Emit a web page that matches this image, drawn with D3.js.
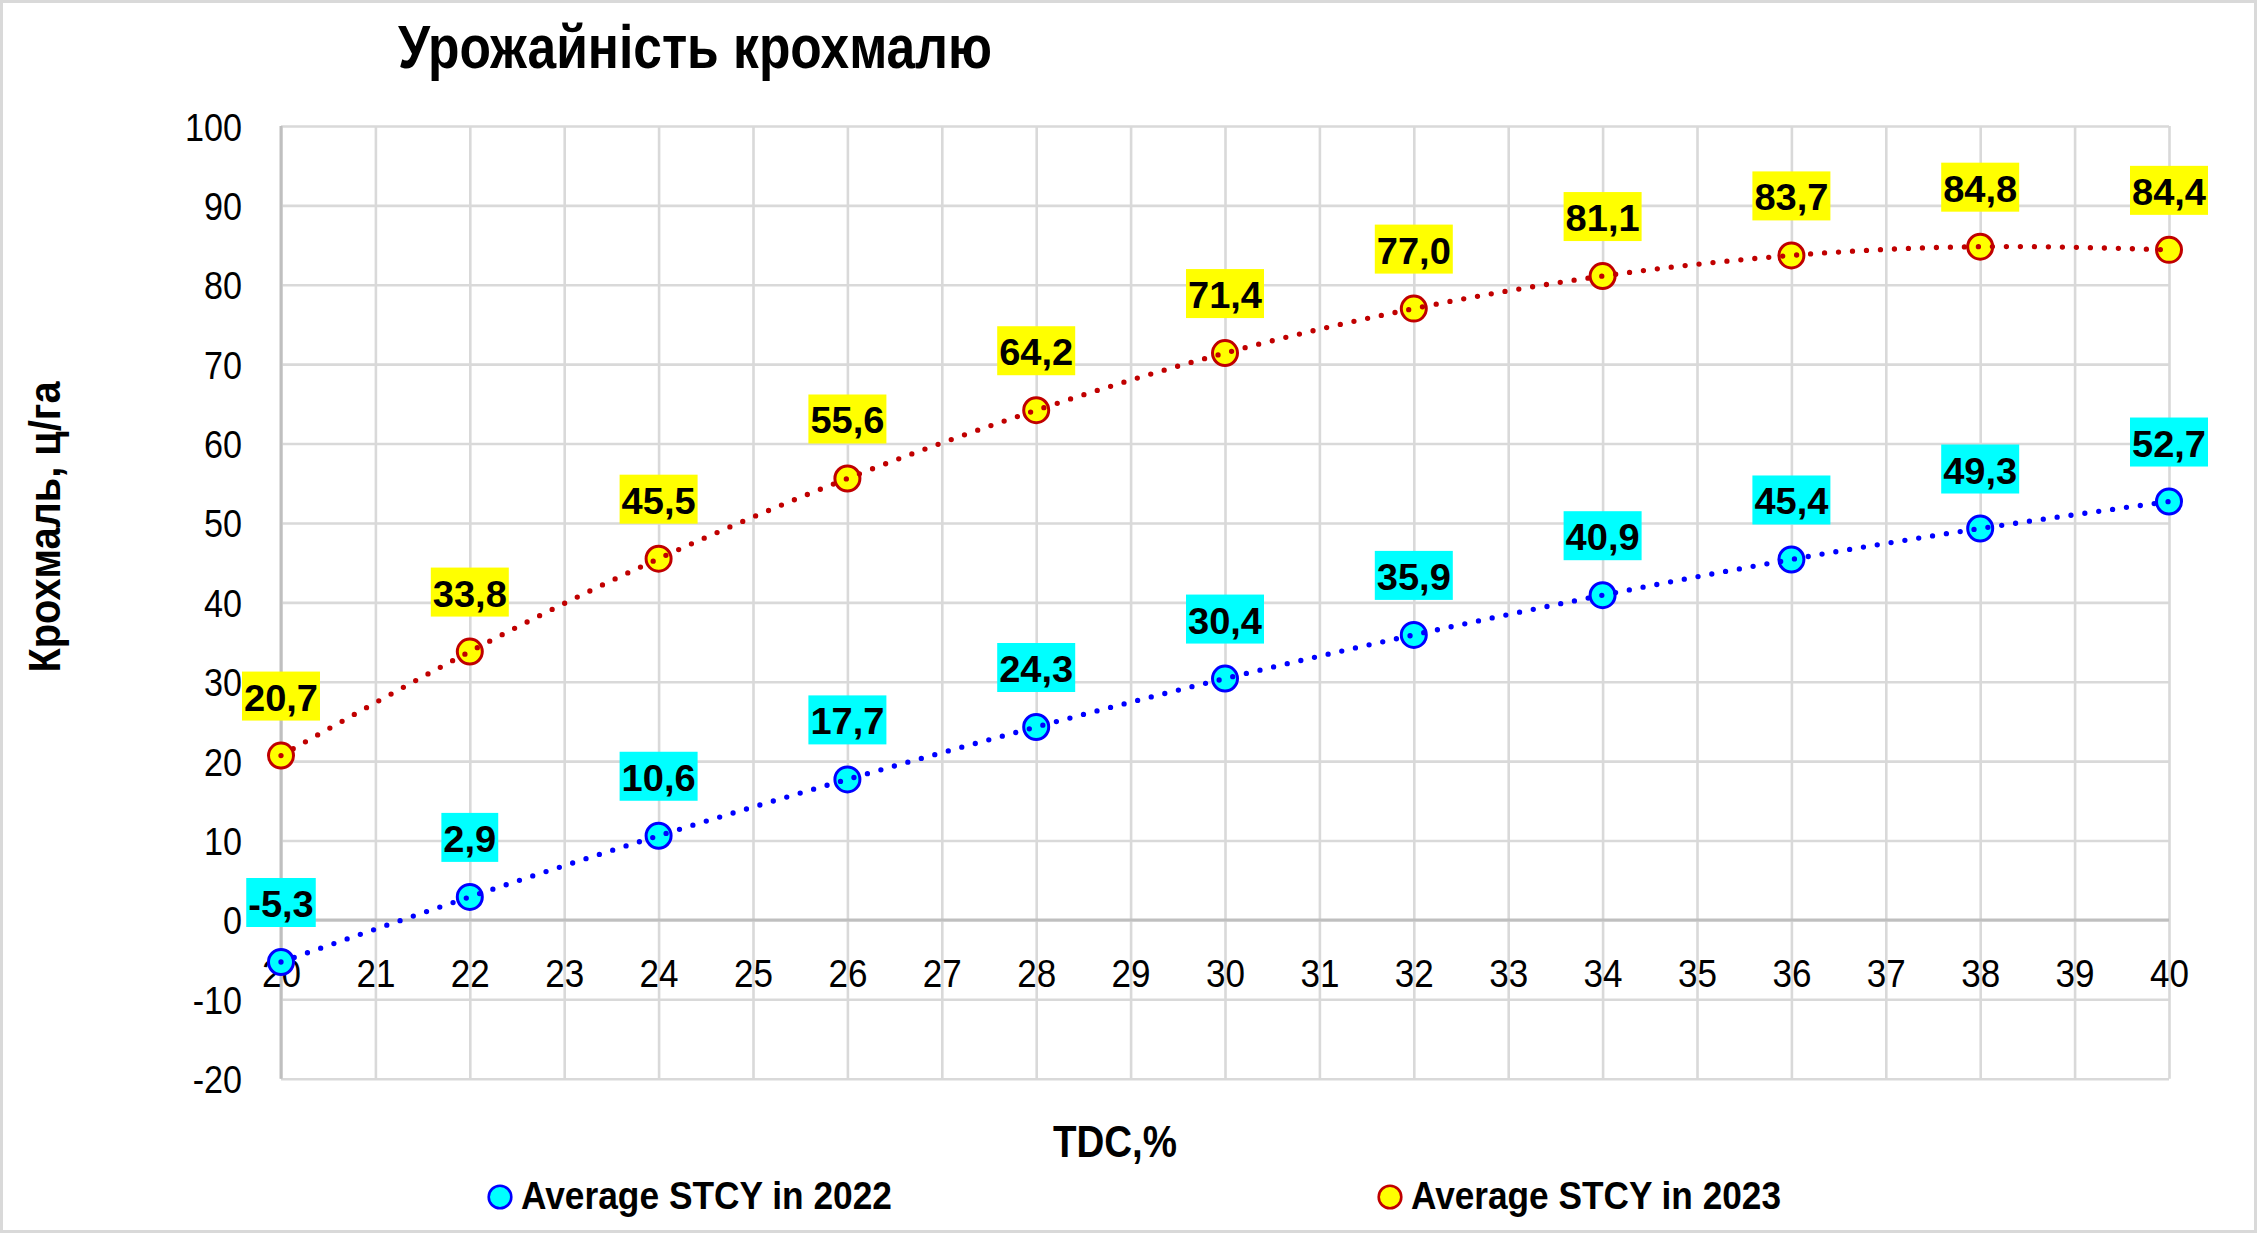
<!DOCTYPE html>
<html>
<head>
<meta charset="utf-8">
<script src="https://cdn.jsdelivr.net/npm/d3@7"></script>
<style>
  html, body { margin: 0; padding: 0; background: #fff; }
  svg { display: block; }
</style>
</head>
<body>
<div id="chart"></div>
<script>
// ---------------- data ----------------
const tdc = [20, 22, 24, 26, 28, 30, 32, 34, 36, 38, 40];
const stcy2022 = [-5.3, 2.9, 10.6, 17.7, 24.3, 30.4, 35.9, 40.9, 45.4, 49.3, 52.7];
const stcy2023 = [20.7, 33.8, 45.5, 55.6, 64.2, 71.4, 77.0, 81.1, 83.7, 84.8, 84.4];
const xTicks = d3.range(20, 41, 1);
const yTicks = [-20, -10, 0, 10, 20, 30, 40, 50, 60, 70, 80, 90, 100];
const seriesNames = ["Average STCY in 2022", "Average STCY in 2023"];
const titleText = "Урожайність крохмалю";
const yTitleText = "Крохмаль, ц/га";
const xTitleText = "TDC,%";

// ---------------- setup ----------------
const W = 2257, H = 1233;
const svg = d3.select("#chart").append("svg").attr("width", W).attr("height", H);

function hasFont(name) {
  const c = document.createElement("canvas").getContext("2d");
  const s = "Average STCY 0123456789 Крохмаль";
  c.font = "40px monospace"; const a = c.measureText(s).width;
  c.font = `40px "${name}", monospace`; const b = c.measureText(s).width;
  c.font = "40px serif"; const a2 = c.measureText(s).width;
  c.font = `40px "${name}", serif`; const b2 = c.measureText(s).width;
  return a !== b && a2 !== b2;
}
const narrowFam = hasFont("Liberation Sans Narrow") ? '"Liberation Sans Narrow", "Liberation Sans", Arial, sans-serif'
                : (hasFont("Arial Narrow") ? '"Arial Narrow", "Liberation Sans", Arial, sans-serif'
                : '"Liberation Sans", Arial, sans-serif');
const regFam = '"Liberation Sans", Arial, sans-serif';

const ctx = document.createElement("canvas").getContext("2d");
function measure(str, weight, size, fam) {
  ctx.font = `${weight} ${size}px ${fam}`;
  return ctx.measureText(str).width;
}

const x = d3.scaleLinear().domain([20, 40]).range([281, 2169]);
const y = d3.scaleLinear().domain([-20, 100]).range([1078.7, 126]);

// background + outer border
svg.append("rect").attr("x", 0).attr("y", 0).attr("width", W).attr("height", H).attr("fill", "#fff");
svg.append("rect").attr("x", 1.5).attr("y", 1.5).attr("width", W - 3).attr("height", H - 3)
  .attr("fill", "none").attr("stroke", "#d9d9d9").attr("stroke-width", 3);

// ---------------- gridlines via axes ----------------
const gridX = svg.append("g").attr("transform", `translate(0,${y(-20)})`)
  .call(d3.axisBottom(x).tickValues(xTicks).tickSize(-(y(-20) - y(100))).tickFormat(""));
gridX.select(".domain").remove();
gridX.selectAll("line").attr("stroke", "#d9d9d9").attr("stroke-width", 2.6);

const gridY = svg.append("g").attr("transform", `translate(${x(20)},0)`)
  .call(d3.axisLeft(y).tickValues(yTicks).tickSize(-(x(40) - x(20))).tickFormat(""));
gridY.select(".domain").remove();
gridY.selectAll("line").attr("stroke", "#d9d9d9").attr("stroke-width", 2.6);

// axis lines (value axis at left, category axis at y = 0)
svg.append("line").attr("x1", x(20)).attr("x2", x(20)).attr("y1", y(100)).attr("y2", y(-20))
  .attr("stroke", "#bfbfbf").attr("stroke-width", 3);
svg.append("line").attr("x1", x(20)).attr("x2", x(40)).attr("y1", y(0)).attr("y2", y(0))
  .attr("stroke", "#bfbfbf").attr("stroke-width", 3);

// ---------------- tick labels ----------------
const tickSize = 39;
const yTickScale = 57 / measure("100", "normal", tickSize, narrowFam);
const xTickScale = 39 / measure("27", "normal", tickSize, narrowFam);

const yAxisG = svg.append("g").attr("transform", `translate(${x(20)},0)`)
  .call(d3.axisLeft(y).tickValues(yTicks).tickSize(0).tickFormat(d => String(d)));
yAxisG.select(".domain").remove();
yAxisG.selectAll("text")
  .attr("x", null).attr("dy", null)
  .attr("transform", `translate(${242 - x(20)},14) scale(${yTickScale},1)`)
  .attr("text-anchor", "end")
  .style("font-family", narrowFam).style("font-size", tickSize + "px").attr("fill", "#000");

const xAxisG = svg.append("g").attr("transform", `translate(0,${y(0)})`)
  .call(d3.axisBottom(x).tickValues(xTicks).tickSize(0).tickFormat(d => String(d)));
xAxisG.select(".domain").remove();
xAxisG.selectAll("text")
  .attr("y", null).attr("dy", null)
  .attr("transform", `translate(0,67) scale(${xTickScale},1)`)
  .attr("text-anchor", "middle")
  .style("font-family", narrowFam).style("font-size", tickSize + "px").attr("fill", "#000");

// ---------------- series ----------------
const series = [
  { name: seriesNames[0], values: stcy2022, stroke: "#0000ff", fill: "#00ffff", line: "#0000ff", labelBg: "#00ffff" },
  { name: seriesNames[1], values: stcy2023, stroke: "#c00000", fill: "#ffff00", line: "#c00000", labelBg: "#ffff00" }
];

const lineGen = d3.line().x(d => x(d[0])).y(d => y(d[1])).curve(d3.curveNatural);

series.forEach(s => {
  const pts = tdc.map((t, i) => [t, s.values[i]]);
  svg.append("g").selectAll("circle").data(pts).join("circle")
    .attr("cx", d => x(d[0])).attr("cy", d => y(d[1])).attr("r", 12.5)
    .attr("fill", s.fill).attr("stroke", s.stroke).attr("stroke-width", 3);
  svg.append("path").datum(pts).attr("d", lineGen)
    .attr("fill", "none").attr("stroke", s.line).attr("stroke-width", 5.3)
    .attr("stroke-linecap", "round").attr("stroke-dasharray", "0 14");
});

// ---------------- data labels ----------------
const lblSize = 36;
const lblScale = 74 / measure("84,8", "bold", lblSize, regFam);
const fmt = v => v.toFixed(1).replace(".", ",");

series.forEach(s => {
  const pts = tdc.map((t, i) => [t, s.values[i]]);
  const g = svg.append("g").selectAll("g").data(pts).join("g")
    .attr("transform", d => `translate(${x(d[0])},${y(d[1])})`);
  g.append("rect")
    .attr("x", d => -(measure(fmt(d[1]), "bold", lblSize, regFam) * lblScale + 4) / 2)
    .attr("width", d => measure(fmt(d[1]), "bold", lblSize, regFam) * lblScale + 4)
    .attr("y", -84).attr("height", 49).attr("fill", s.labelBg);
  g.append("text").text(d => fmt(d[1]))
    .attr("transform", `translate(0,-45) scale(${lblScale},1)`)
    .attr("text-anchor", "middle")
    .style("font-family", regFam).style("font-weight", "bold").style("font-size", lblSize + "px")
    .attr("fill", "#000");
});

// ---------------- titles ----------------
svg.append("text").text(titleText)
  .attr("x", 398).attr("y", 68)
  .attr("textLength", 594).attr("lengthAdjust", "spacingAndGlyphs")
  .style("font-family", narrowFam).style("font-weight", "bold").style("font-size", "62px").attr("fill", "#000");

svg.append("text").text(xTitleText)
  .attr("x", 1053).attr("y", 1157)
  .attr("textLength", 124).attr("lengthAdjust", "spacingAndGlyphs")
  .style("font-family", narrowFam).style("font-weight", "bold").style("font-size", "44px").attr("fill", "#000");

svg.append("text").text(yTitleText)
  .attr("transform", "translate(60,527) scale(1.1,1) rotate(-90)")
  .attr("x", -145.5).attr("y", 0)
  .attr("textLength", 291).attr("lengthAdjust", "spacingAndGlyphs")
  .style("font-family", regFam).style("font-weight", "bold").style("font-size", "41px").attr("fill", "#000");

// ---------------- legend ----------------
const legendPos = [{ cx: 500, tx: 521, len: 371 }, { cx: 1390, tx: 1411, len: 370 }];
series.forEach((s, i) => {
  const p = legendPos[i];
  svg.append("circle").attr("cx", p.cx).attr("cy", 1197).attr("r", 11.3)
    .attr("fill", s.fill).attr("stroke", s.stroke).attr("stroke-width", 2.6);
  svg.append("text").text(s.name)
    .attr("x", p.tx).attr("y", 1209)
    .attr("textLength", p.len).attr("lengthAdjust", "spacingAndGlyphs")
    .style("font-family", narrowFam).style("font-weight", "bold").style("font-size", "38.6px").attr("fill", "#000");
});
</script>
</body>
</html>
